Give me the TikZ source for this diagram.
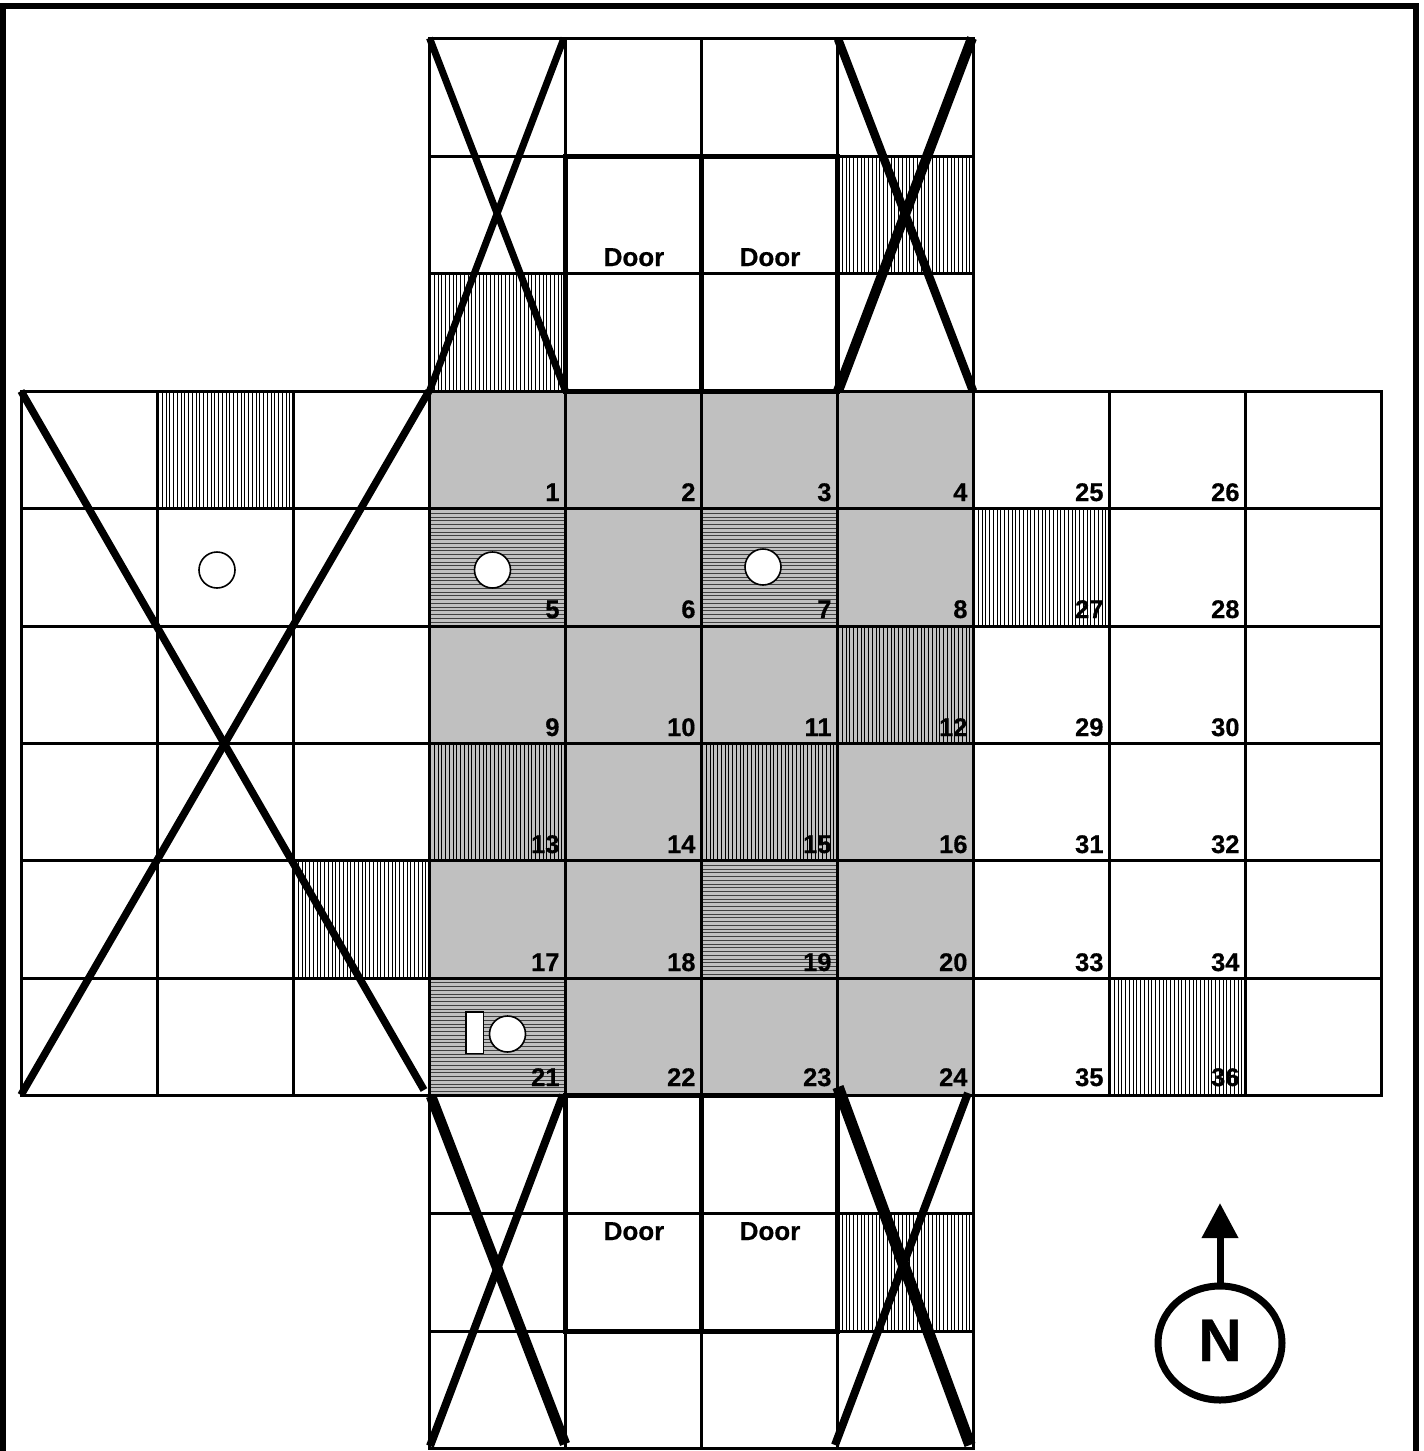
\documentclass[tikz,border=0pt]{standalone}
\usepackage{fontspec}
\setmainfont[BoldFeatures={FakeBold=0.45}]{Liberation Sans}
\usetikzlibrary{arrows.meta,shapes.geometric}
\definecolor{floorgray}{HTML}{C0C0C0}
\definecolor{hatchdark}{HTML}{404040}
\tikzset{
  grid line/.style={line width=3pt,black,line cap=rect},
  door line/.style={line width=5pt,black,line cap=rect},
  cross/.style={line width=#1,black,line cap=butt},
  vhatch/.style={line width=1.6pt,black},
  hhatch/.style={line width=1.1pt,hatchdark},
  num/.style={anchor=base east,inner sep=0pt,outer sep=0pt,font=\fontsize{25.5}{25.5}\bfseries},
  doorlabel/.style={anchor=base,inner sep=0pt,outer sep=0pt,font=\fontsize{26}{26}\bfseries},
  token/.style={circle,draw=black,fill=white,line width=1.6pt,minimum size=36pt,inner sep=0pt,outer sep=0pt},
}
\begin{document}
\begin{tikzpicture}[x=1pt,y=-1pt]
\useasboundingbox (0,0) rectangle (1424,1451);
\begin{scope}
\clip (0,0) rectangle (1424,1451);
% outer frame
\draw[line width=6pt,black] (3,1470) -- (3,6) -- (1415.5,6) -- (1415.5,1470);
% grey floor
\fill[floorgray] (429.5,391) rectangle (973.5,1095.5);
% vertical hatching on white and grey cells
\foreach \cx/\ty/\by in {429.5/273/391,837.5/156/273,157.5/391/508.5,293.5/860.5/978,973.5/508.5/626,1109.5/978/1095.5,837.5/1213/1331,837.5/626/743.5,429.5/743.5/860.5,701.5/743.5/860.5}{
  \foreach \k in {0,...,35}{
    \pgfmathsetmacro{\hx}{floor(\cx+1+3.75*\k)+0.5}
    \draw[vhatch] (\hx,\ty) -- (\hx,\by);
  }
}
% horizontal hatching
\foreach \cx/\ty in {429.5/508.5,701.5/508.5,701.5/860.5,429.5/978}{
  \foreach \k in {0,...,30}{
    \pgfmathsetmacro{\hy}{floor(\ty+1+3.75*\k)+0.5}
    \draw[hhatch] (\cx,\hy) -- (\cx+136,\hy);
  }
}
% grid
\foreach \gy in {391,508.5,626,743.5,860.5,978,1095.5}{\draw[grid line] (21.5,\gy) -- (1381.5,\gy);}
\foreach \gx in {21.5,157.5,293.5,429.5,565.5,701.5,837.5,973.5,1109.5,1245.5,1381.5}{\draw[grid line] (\gx,391) -- (\gx,1095.5);}
\foreach \gy in {38.5,156,273}{\draw[grid line] (429.5,\gy) -- (973.5,\gy);}
\foreach \gy in {1213,1331,1448}{\draw[grid line] (429.5,\gy) -- (973.5,\gy);}
\foreach \gx in {429.5,565.5,701.5,837.5,973.5}{
  \draw[grid line] (\gx,38.5) -- (\gx,391);
  \draw[grid line] (\gx,1095.5) -- (\gx,1448);
}
% door outlines
\draw[door line] (565.5,391) -- (565.5,156) -- (837.5,156) -- (837.5,391) -- cycle;
\draw[door line] (701.5,156) -- (701.5,391);
\draw[door line] (565.5,1095.5) -- (565.5,1331) -- (837.5,1331) -- (837.5,1095.5) -- cycle;
\draw[door line] (701.5,1095.5) -- (701.5,1331);
% cell numbers
\foreach \n/\cx/\by in {1/565.5/501,2/701.5/501,3/837.5/501,4/973.5/501,25/1109.5/501,26/1245.5/501,
 5/565.5/618,6/701.5/618,7/837.5/618,8/973.5/618,27/1109.5/618,28/1245.5/618,
 9/565.5/736,10/701.5/736,11/837.5/736,12/973.5/736,29/1109.5/736,30/1245.5/736,
 13/565.5/853,14/701.5/853,15/837.5/853,16/973.5/853,31/1109.5/853,32/1245.5/853,
 17/565.5/971,18/701.5/971,19/837.5/971,20/973.5/971,33/1109.5/971,34/1245.5/971,
 21/565.5/1086,22/701.5/1086,23/837.5/1086,24/973.5/1086,35/1109.5/1086,36/1245.5/1086}{
  \node[num] (cell\n) at (\cx-6,\by) {\n};
}
% door labels
\node[doorlabel] (doorA) at (634,266) {Door};
\node[doorlabel] (doorB) at (770,266) {Door};
\node[doorlabel] (doorC) at (634,1240) {Door};
\node[doorlabel] (doorD) at (770,1240) {Door};
% tokens
\node[token] (tokenW) at (217,570) {};
\node[token] (tokenA) at (492.5,570) {};
\node[token] (tokenB) at (763,567) {};
\node[token] (tokenC) at (507.5,1034) {};
\draw[black,fill=white,line width=1.6pt] (466,1012) rectangle (483.5,1053.5);
% crossed-out blocks
\draw[cross=7pt] (429.5,38) -- (565.5,391);
\draw[cross=7pt] (564,38) -- (429.5,391);
\draw[cross=8.5pt] (838,39) -- (973,391);
\draw[cross=10pt] (972,38) -- (838,391);
\draw[cross=7.5pt] (21,391) -- (424,1090);
\draw[cross=7.5pt] (429,391) -- (21,1095);
\draw[cross=10.5pt] (431,1096) -- (565,1444);
\draw[cross=8pt] (563,1095) -- (430,1446);
\draw[cross=11.5pt] (838,1087) -- (970,1445);
\draw[cross=8pt] (968,1093) -- (835,1445);
% north marker
\node[ellipse,draw=black,line width=7pt,minimum width=124pt,minimum height=114pt,inner sep=0pt,outer sep=0pt] (north) at (1220,1343) {};
\node[inner sep=0pt,outer sep=0pt,anchor=base,font=\fontsize{60}{60}\bfseries] (northN) at (1220,1361) {N};
\coordinate (tip) at (1220,1203);
\draw[line width=7pt,black,-{Triangle[length=35pt,width=35pt]}] (north.north) -- (tip);
\end{scope}
\end{tikzpicture}
\end{document}
